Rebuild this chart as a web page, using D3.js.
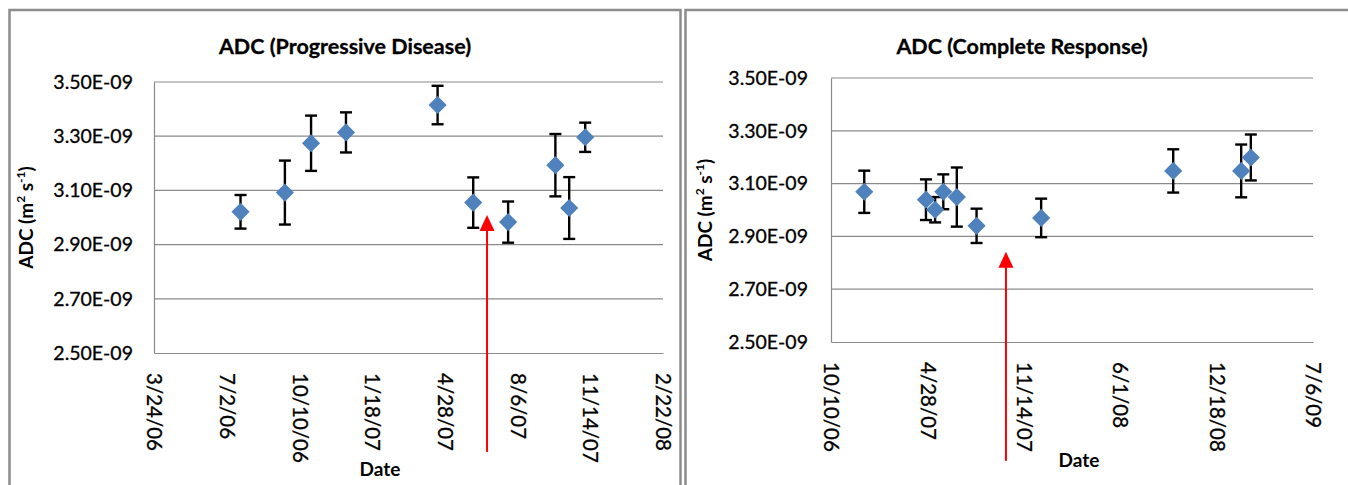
<!DOCTYPE html>
<html>
<head>
<meta charset="utf-8">
<script src="https://cdn.jsdelivr.net/npm/d3@7"></script>
<style>
  body { margin: 0; background: #fff; }
  svg { display: block; font-family: Lato, 'Open Sans', sans-serif; }
  .heavy { stroke: #000; stroke-width: 0.3px; paint-order: stroke; }
</style>
</head>
<body>
<svg id="chart" width="1348" height="485"></svg>
<script>
/* =========================================
   ADC over time — two Excel-style scatter panels with error bars
   ========================================= */

// ---- Data ----
const yTicks = [2.5e-9, 2.7e-9, 2.9e-9, 3.1e-9, 3.3e-9, 3.5e-9];

const leftTitle = 'ADC (Progressive Disease)';
const leftTicks = ['3/24/06', '7/2/06', '10/10/06', '1/18/07', '4/28/07', '8/6/07', '11/14/07', '2/22/08'];
const leftDates = ['7/21/06', '9/20/06', '10/26/06', '12/13/06', '4/18/07', '6/6/07', '7/24/07', '9/27/07', '10/16/07', '11/7/07'];
const leftADC = [3.021e-9, 3.092e-9, 3.274e-9, 3.314e-9, 3.415e-9, 3.055e-9, 2.983e-9, 3.193e-9, 3.035e-9, 3.296e-9];
const leftErr = [0.062e-9, 0.118e-9, 0.102e-9, 0.074e-9, 0.071e-9, 0.093e-9, 0.076e-9, 0.115e-9, 0.114e-9, 0.054e-9];

const rightTitle = 'ADC (Complete Response)';
const rightTicks = ['10/10/06', '4/28/07', '11/14/07', '6/1/08', '12/18/08', '7/6/09'];
const rightDates = ['12/18/06', '4/25/07', '5/14/07', '5/31/07', '6/28/07', '8/8/07', '12/20/07', '9/19/08', '2/7/09', '2/27/09'];
const rightADC = [3.069e-9, 3.039e-9, 3.001e-9, 3.069e-9, 3.049e-9, 2.940e-9, 2.970e-9, 3.148e-9, 3.148e-9, 3.199e-9];
const rightErr = [0.080e-9, 0.077e-9, 0.048e-9, 0.066e-9, 0.112e-9, 0.065e-9, 0.073e-9, 0.082e-9, 0.100e-9, 0.087e-9];

// red annotation arrows: date, tip value, tail value
const arrowDates = ['6/25/07', '10/8/07'];
const arrowTips = [3.009e-9, 2.842e-9];
const arrowTails = [2.135e-9, 2.05e-9];

const parse = d3.timeParse('%m/%d/%y');
const fmtE = v => {
  const [m, e] = v.toExponential(2).split('e');
  return m + 'E' + (e[0] === '-' ? '-' : '+') + String(Math.abs(+e)).padStart(2, '0');
};

const svg = d3.select('#chart');

function drawPanel(cfg) {
  const { frame, plot } = cfg;

  // panel frame
  svg.append('rect')
    .attr('x', frame.x).attr('y', frame.y)
    .attr('width', frame.w).attr('height', 520)
    .attr('fill', '#fff').attr('stroke', '#8c8c8c').attr('stroke-width', 2.5);

  const x = d3.scaleTime()
    .domain([parse(cfg.ticks[0]), parse(cfg.ticks[cfg.ticks.length - 1])])
    .range([plot.left, plot.right]);
  const y = d3.scaleLinear()
    .domain([yTicks[0], yTicks[yTicks.length - 1]])
    .range([plot.bottom, plot.top]);

  const g = svg.append('g');

  // ---- Grid ----
  g.append('g').selectAll('line').data(yTicks.slice(1)).join('line')
    .attr('x1', plot.left).attr('x2', plot.right)
    .attr('y1', d => y(d)).attr('y2', d => y(d))
    .attr('stroke', '#8a8a8a').attr('stroke-width', 1.2);

  // ---- Axes ----
  const tickDates = cfg.ticks.map(parse);
  const xAxis = g.append('g')
    .attr('transform', `translate(0,${plot.bottom})`)
    .call(d3.axisBottom(x).tickValues(tickDates).tickSize(0).tickFormat((d, i) => cfg.ticks[i]));
  xAxis.select('.domain').attr('stroke', '#8a8a8a').attr('stroke-width', 1.2);
  xAxis.selectAll('text')
    .attr('class', 'heavy')
    .attr('transform', 'rotate(90)')
    .attr('x', 20).attr('y', 0).attr('dy', '0.36em')
    .style('text-anchor', 'start')
    .attr('font-family', 'Lato, sans-serif').attr('font-size', 20.5).attr('fill', '#000');

  const yAxis = g.append('g')
    .attr('transform', `translate(${plot.left},0)`)
    .call(d3.axisLeft(y).tickValues(yTicks).tickSize(0).tickPadding(plot.left - cfg.yLabelRight).tickFormat(fmtE));
  yAxis.select('.domain').attr('stroke', '#8a8a8a').attr('stroke-width', 1.2);
  yAxis.selectAll('text')
    .attr('class', 'heavy')
    .attr('font-family', 'Lato, sans-serif').attr('font-size', 19.5).attr('fill', '#000');

  // ---- Titles ----
  svg.append('text')
    .attr('class', 'heavy')
    .attr('x', cfg.titleX).attr('y', 54)
    .attr('text-anchor', 'middle')
    .attr('font-size', 21.5).attr('font-weight', 700)
    .text(cfg.title);

  svg.append('text')
    .attr('x', cfg.dateX).attr('y', cfg.dateY)
    .attr('text-anchor', 'middle')
    .attr('font-size', 19).attr('font-weight', 700)
    .text('Date');

  const yt = svg.append('text')
    .attr('transform', `translate(${cfg.yTitleX},${(plot.top + plot.bottom) / 2}) rotate(-90)`)
    .attr('text-anchor', 'middle')
    .attr('font-size', 19).attr('font-weight', 700);
  yt.append('tspan').text('ADC (m');
  yt.append('tspan').attr('font-size', 12).attr('dy', -8).text('2');
  yt.append('tspan').attr('dy', 8).text(' s');
  yt.append('tspan').attr('font-size', 12).attr('dy', -8).text('-1');
  yt.append('tspan').attr('dy', 8).text(')');

  // ---- Error bars ----
  const pts = cfg.dates.map((d, i) => ({ date: parse(d), v: cfg.values[i], e: cfg.errs[i] }));
  const eb = g.append('g').attr('stroke', '#000').attr('stroke-width', 2.4);
  eb.selectAll('.eb-line').data(pts).join('line')
    .attr('x1', d => x(d.date)).attr('x2', d => x(d.date))
    .attr('y1', d => y(d.v + d.e)).attr('y2', d => y(d.v - d.e));
  eb.selectAll('.eb-top').data(pts).join('line')
    .attr('x1', d => x(d.date) - 6).attr('x2', d => x(d.date) + 6)
    .attr('y1', d => y(d.v + d.e)).attr('y2', d => y(d.v + d.e));
  eb.selectAll('.eb-bot').data(pts).join('line')
    .attr('x1', d => x(d.date) - 6).attr('x2', d => x(d.date) + 6)
    .attr('y1', d => y(d.v - d.e)).attr('y2', d => y(d.v - d.e));

  // ---- Diamond markers ----
  g.append('g').selectAll('path').data(pts).join('path')
    .attr('d', d3.symbol(d3.symbolSquare, 165))
    .attr('transform', d => `translate(${x(d.date)},${y(d.v)}) rotate(45)`)
    .attr('fill', '#4f81bd');

  // ---- Red arrow ----
  const ax = x(parse(cfg.arrow.date));
  const tip = y(cfg.arrow.tip);
  svg.append('line')
    .attr('x1', ax).attr('x2', ax)
    .attr('y1', y(cfg.arrow.tail)).attr('y2', tip + 12)
    .attr('stroke', '#ff0000').attr('stroke-width', 2);
  svg.append('path')
    .attr('d', `M${ax},${tip} L${ax - 7.5},${tip + 16} L${ax + 7.5},${tip + 16} Z`)
    .attr('fill', '#ff0000');
}

drawPanel({
  frame: { x: 9.5, y: 10, w: 671 },
  plot: { left: 154, right: 663, top: 82, bottom: 353 },
  yLabelRight: 133,
  ticks: leftTicks, dates: leftDates, values: leftADC, errs: leftErr,
  title: leftTitle, titleX: 345, dateX: 380, dateY: 476, yTitleX: 33,
  arrow: { date: arrowDates[0], tip: arrowTips[0], tail: arrowTails[0] }
});

drawPanel({
  frame: { x: 685.5, y: 10, w: 700 },
  plot: { left: 831, right: 1313, top: 78, bottom: 342 },
  yLabelRight: 808,
  ticks: rightTicks, dates: rightDates, values: rightADC, errs: rightErr,
  title: rightTitle, titleX: 1022, dateX: 1079, dateY: 467, yTitleX: 712,
  arrow: { date: arrowDates[1], tip: arrowTips[1], tail: arrowTails[1] }
});
</script>
</body>
</html>
